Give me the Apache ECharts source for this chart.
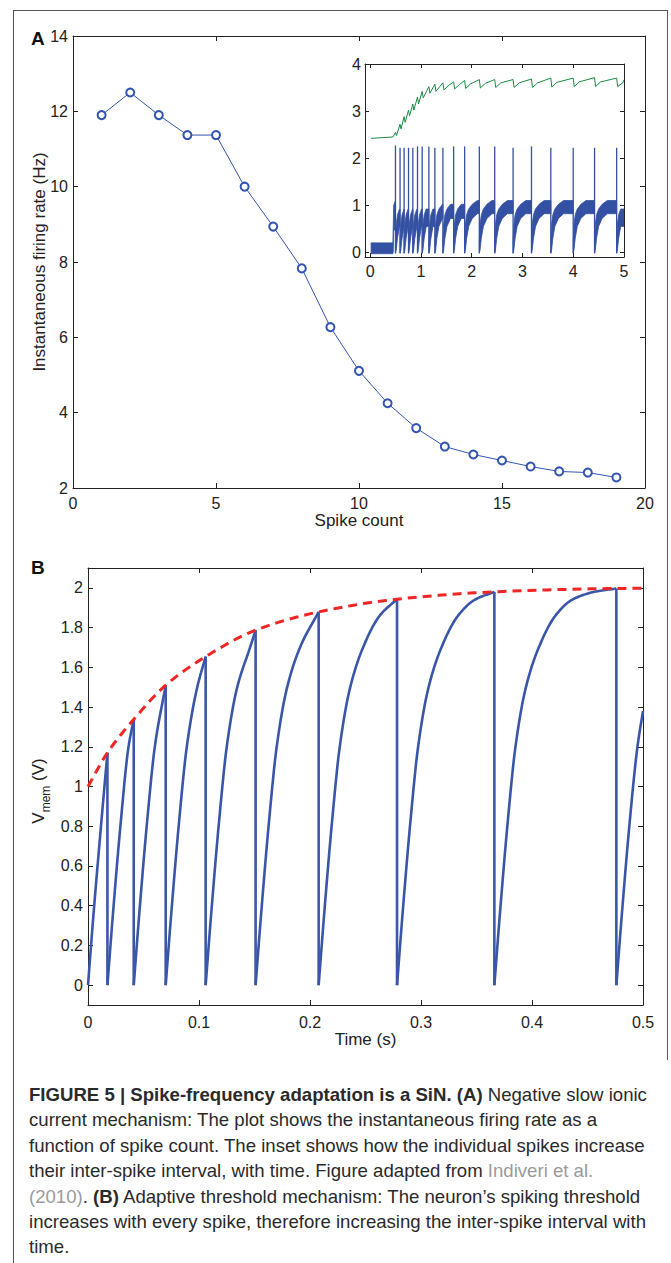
<!DOCTYPE html>
<html><head><meta charset="utf-8">
<script src="https://cdn.jsdelivr.net/npm/echarts@6/dist/echarts.min.js"></script>
<style>html,body{margin:0;padding:0;background:#fff;}#c{width:671px;height:1263px;}</style>
</head><body><div id="c"></div>
<script>
// ---------- Panel A: instantaneous firing rate vs spike count ----------
const spikeCount = [1,2,3,4,5,6,7,8,9,10,11,12,13,14,15,16,17,18,19];
const firingRate = [11.9,12.5,11.9,11.37,11.37,10.0,8.94,7.83,6.27,5.11,4.25,3.59,3.10,2.89,2.73,2.57,2.44,2.41,2.28];
const aXTicks = [0,5,10,15,20];
const aYTicks = [2,4,6,8,10,12,14];

// ---------- Inset of panel A ----------
const insetXTicks = [0,1,2,3,4,5];
const insetYTicks = [0,1,2,3,4];
const insetSpikeTimes = [0.50,0.59,0.67,0.757,0.842,0.934,1.026,1.158,1.276,1.434,1.645,1.862,2.151,2.454,2.816,3.178,3.559,4.0,4.42,4.855];
const insetSpikePeaks = [2.27,2.22,2.22,2.22,2.22,2.25,2.25,2.25,2.22,2.22,2.25,2.25,2.25,2.25,2.22,2.25,2.22,2.22,2.22,2.22];
const insetEndTime = 5.0;
// noisy membrane band (time since spike, lower and upper edge of the band)
const insetBandDt = [0, 0.015, 0.04, 0.08, 0.15, 0.25, 0.45];
const insetBandLo = [-0.02, 0.05, 0.3, 0.55, 0.72, 0.82, 0.88];
const insetBandHi = [0.25, 0.6, 0.8, 0.92, 1.02, 1.1, 1.15];
// before onset: [time, low, high]
const insetPreOnset = [[0.02,-0.03,0.2],[0.45,-0.03,0.2]];
const insetOnset = [[0.45,0.0,0.25],[0.465,0.45,1.0],[0.50,0.5,1.1]];
// green trace
const greenOnset = [[0.02,2.42],[0.45,2.45]];
const greenPeak = [2.55,2.72,2.88,3.02,3.15,3.3,3.42,3.52,3.57,3.6,3.62,3.65,3.67,3.67,3.67,3.68,3.7,3.7,3.71,3.7];
const greenTrough = [2.48,2.62,2.76,2.9,3.02,3.15,3.28,3.38,3.42,3.45,3.47,3.48,3.49,3.5,3.5,3.5,3.51,3.52,3.52,3.52];
const greenRecover = [null,null,null,null,null,null,null,null,null,3.55,3.57,3.58,3.59,3.6,3.6,3.6,3.61,3.62,3.62,3.6];
const greenEnd = 3.66;

// ---------- Panel B: adaptive threshold ----------
const bXTicks = [0,0.1,0.2,0.3,0.4,0.5];
const bYTicks = [0,0.2,0.4,0.6,0.8,1,1.2,1.4,1.6,1.8,2];
const bSpikeTimes = [0.0175,0.0412,0.070,0.106,0.151,0.2078,0.2784,0.3661,0.476];
const bSpikePeaks = [1.17,1.338,1.51,1.654,1.787,1.879,1.943,1.98,1.997];
const bRiseCurves = [
  [[0,0],[0.005,0.36],[0.012,0.82],[0.0175,1.17]],
  [[0.0175,0],[0.0225,0.36],[0.0295,0.82],[0.0365,1.2],[0.0412,1.338]],
  [[0.0412,0],[0.0462,0.36],[0.0532,0.82],[0.0602,1.2],[0.070,1.51]],
  [[0.070,0],[0.075,0.36],[0.082,0.82],[0.089,1.2],[0.098,1.49],[0.106,1.654]],
  [[0.106,0],[0.111,0.36],[0.118,0.82],[0.125,1.2],[0.134,1.49],[0.146,1.70],[0.151,1.787]],
  [[0.151,0],[0.156,0.36],[0.163,0.82],[0.170,1.2],[0.179,1.49],[0.191,1.70],[0.2078,1.879]],
  [[0.2078,0],[0.2128,0.36],[0.2198,0.82],[0.2268,1.2],[0.2358,1.49],[0.2478,1.70],[0.2628,1.86],[0.2784,1.943]],
  [[0.2784,0],[0.2834,0.36],[0.2904,0.82],[0.2974,1.2],[0.3064,1.49],[0.3184,1.70],[0.3334,1.86],[0.3484,1.94],[0.3661,1.98]],
  [[0.3661,0],[0.3711,0.36],[0.3781,0.82],[0.3851,1.2],[0.3941,1.49],[0.4061,1.70],[0.4211,1.86],[0.4361,1.94],[0.4561,1.98],[0.476,1.997]],
  [[0.476,0],[0.481,0.36],[0.488,0.82],[0.495,1.2],[0.5,1.38]]
];
const bThreshold = [[0,1.0],[0.0175,1.17],[0.0412,1.338],[0.070,1.51],[0.106,1.654],[0.151,1.787],[0.2078,1.879],[0.2784,1.943],[0.3661,1.98],[0.476,1.997],[0.5,1.998]];

// ---------- Texts ----------
const aYTitle = 'Instantaneous firing rate (Hz)';
const aXTitle = 'Spike count';
const bYTitle = '{v|V}{s|mem}{v| (V)}';
const bXTitle = 'Time (s)';
const captionLines = [
  '{b|FIGURE 5 | Spike-frequency adaptation is a SiN. (A)} Negative slow ionic',
  'current mechanism: The plot shows the instantaneous firing rate as a',
  'function of spike count. The inset shows how the individual spikes increase',
  'their inter-spike interval, with time. Figure adapted from {g|Indiveri et al.}',
  '{g|(2010)}. {b|(B)} Adaptive threshold mechanism: The neuron\u2019s spiking threshold',
  'increases with every spike, therefore increasing the inter-spike interval with',
  'time.'
];

// ================= drawing =================
const FONT = '"Liberation Sans", Arial, Helvetica, sans-serif';
const INK = '#222';
const BLUE_A = '#3355b2';
const BLUE_B = '#3a56a8';
const BLUE_IN = '#3350a2';
const GREEN = '#1d8a43';
const RED = '#ee2626';
const CAP_FS = 18.6;

function fmt1(v){ return String(Math.round(v*10)/10); }

function boxAxes(dim, gridIndex, min, max, ticks, fs, tickLen, margin, z, name, nameGap){
  const isX = dim === 'x';
  const base = {
    type:'value', gridIndex, min, max, scale:true, z:z,
    splitLine:{show:false},
    axisLine:{show:true, onZero:false, lineStyle:{color:INK, width:1}},
    axisTick:{show:true, inside:true, length:tickLen, customValues:ticks, lineStyle:{color:INK, width:1}}
  };
  const main = Object.assign({}, base, {
    position: isX ? 'bottom' : 'left',
    axisLabel:{show:true, customValues:ticks, formatter:fmt1, fontSize:fs, color:INK, fontFamily:FONT, margin:margin},
  });
  if (name){
    main.name = name; main.nameLocation = 'middle'; main.nameGap = nameGap;
    main.nameTextStyle = {fontSize:17, color:INK, fontFamily:FONT};
  }
  const other = Object.assign({}, base, {position: isX ? 'top' : 'right', axisLabel:{show:false}});
  return [main, other];
}

const xAxes = [].concat(
  boxAxes('x',0,0,20,aXTicks,16,5,7,0,aXTitle,22),
  boxAxes('x',1,-0.1,5,insetXTicks,16,4,6,8),
  boxAxes('x',2,0,0.5,bXTicks,16,5,9,0,bXTitle,24)
);
const yAxes = [].concat(
  boxAxes('y',0,2,14,aYTicks,16,5,5,0),
  boxAxes('y',1,-0.1,4,insetYTicks,16,4,4,8),
  boxAxes('y',2,-0.1,2.1,bYTicks,16,5,5,0)
);

// smooth (monotone cubic) rendering of pixel points taken from api.coord
function smoothPixels(px){
  const n = px.length;
  if (n < 3) return px;
  const dx = [], m = [];
  for (let i=0;i<n-1;i++){ dx.push(px[i+1][0]-px[i][0]); m.push((px[i+1][1]-px[i][1])/dx[i]); }
  const t = [m[0]];
  for (let i=1;i<n-1;i++){
    if (m[i-1]*m[i] <= 0) t.push(0);
    else t.push(3*(dx[i-1]+dx[i]) / ((2*dx[i]+dx[i-1])/m[i-1] + (dx[i]+2*dx[i-1])/m[i]));
  }
  t.push(m[n-2]);
  const out = [px[0]];
  const S = 14;
  for (let i=0;i<n-1;i++){
    for (let k=1;k<=S;k++){
      const s = k/S, s2 = s*s, s3 = s2*s;
      const h00 = 2*s3-3*s2+1, h10 = s3-2*s2+s, h01 = -2*s3+3*s2, h11 = s3-s2;
      out.push([px[i][0]+s*dx[i], h00*px[i][1] + h10*dx[i]*t[i] + h01*px[i+1][1] + h11*dx[i]*t[i+1]]);
    }
  }
  return out;
}

// inset intervals: [start, end, peakAtStart]
const insetIntervals = insetSpikeTimes.map((t,i)=>[t, i+1<insetSpikeTimes.length ? insetSpikeTimes[i+1] : insetEndTime, insetSpikePeaks[i]]);

function bandPolygon(api, pts){ // pts: [t, lo, hi]
  const up = pts.map(p=>api.coord([p[0],p[2]]));
  const dn = pts.slice().reverse().map(p=>api.coord([p[0],p[1]]));
  return {type:'polygon', shape:{points:up.concat(dn)}, style:{fill:BLUE_IN, stroke:BLUE_IN, lineWidth:0.8}};
}

// green points
const greenData = greenOnset.slice();
insetSpikeTimes.forEach((t,i)=>{
  greenData.push([t, greenPeak[i]]);
  greenData.push([t+0.02, greenTrough[i]]);
  if (greenRecover[i] !== null) greenData.push([t+0.12, greenRecover[i]]);
});
greenData.push([insetEndTime, greenEnd]);

// panel B series
const bSeries = [
  {type:'custom', xAxisIndex:4, yAxisIndex:4, silent:true, z:3,
   data: bRiseCurves.map((seg,i)=>[seg[0][0], seg[seg.length-1][0], i]),
   renderItem:(params, api)=>{
     const seg = bRiseCurves[api.value(2)];
     const px = smoothPixels(seg.map(p=>api.coord(p)));
     return {type:'polyline', shape:{points:px}, style:{stroke:BLUE_B, lineWidth:2.6, fill:null, lineJoin:'round'}};
   }},
  {type:'custom', xAxisIndex:4, yAxisIndex:4, silent:true, z:3,
   data: bSpikeTimes.map((t,i)=>[t, bSpikePeaks[i]]),
   renderItem:(params, api)=>{
     const p1 = api.coord([api.value(0), api.value(1)]);
     const p0 = api.coord([api.value(0), 0]);
     return {type:'line', shape:{x1:p0[0],y1:p0[1],x2:p1[0],y2:p1[1]}, style:{stroke:BLUE_B, lineWidth:2.6}};
   }},
  {type:'custom', xAxisIndex:4, yAxisIndex:4, silent:true, z:4,
   data: [bThreshold[0]],
   renderItem:(params, api)=>{
     const px = smoothPixels(bThreshold.map(p=>api.coord(p)));
     return {type:'polyline', shape:{points:px}, style:{stroke:RED, lineWidth:3, fill:null, lineDash:[9,6]}};
   }}
];

const captionGraphics = captionLines.map((line,i)=>({
  type:'text', left:29, top:1085 + i*25.4, silent:true,
  style:{text:line, fontSize:CAP_FS, fontFamily:FONT, fill:'#2a2a2a',
    rich:{b:{fontWeight:'bold', fontSize:CAP_FS, fontFamily:FONT, fill:'#2a2a2a'},
          g:{fontSize:CAP_FS, fontFamily:FONT, fill:'#9a9a9a'}}}
}));

const option = {
  animation:false,
  backgroundColor:'#fff',
  grid:[
    {left:73, top:36, width:572, height:452, containLabel:false},
    {left:365, top:64, width:259, height:193, show:true, backgroundColor:'#fff', borderWidth:0, z:5},
    {left:88, top:568, width:555, height:437}
  ],
  xAxis: xAxes,
  yAxis: yAxes,
  series: [
    {type:'line', xAxisIndex:0, yAxisIndex:0, data: spikeCount.map((c,i)=>[c, firingRate[i]]),
     symbol:'emptyCircle', symbolSize:8, showSymbol:true,
     lineStyle:{color:BLUE_A, width:1}, itemStyle:{color:BLUE_A, borderColor:BLUE_A, borderWidth:1}, silent:true},
    {type:'custom', xAxisIndex:2, yAxisIndex:2, silent:true, z:6,
     data: insetIntervals,
     renderItem:(params, api)=>{
       const t0 = api.value(0), t1 = api.value(1), pk = api.value(2);
       const pts = [];
       for (let j=0;j<insetBandDt.length;j++){
         if (t0 + insetBandDt[j] < t1) pts.push([t0+insetBandDt[j], insetBandLo[j], insetBandHi[j]]);
       }
       const last = pts[pts.length-1];
       pts.push([t1, last[1], last[2]]);
       const a = api.coord([t0, -0.02]), b = api.coord([t0, pk]);
       return {type:'group', children:[
         bandPolygon(api, pts),
         {type:'line', shape:{x1:a[0],y1:a[1],x2:b[0],y2:b[1]}, style:{stroke:BLUE_IN, lineWidth:1.3}}
       ]};
     }},
    {type:'custom', xAxisIndex:2, yAxisIndex:2, silent:true, z:6,
     data:[0],
     renderItem:(params, api)=>({type:'group', children:[bandPolygon(api, insetPreOnset), bandPolygon(api, insetOnset)]})},
    {type:'line', xAxisIndex:2, yAxisIndex:2, data:greenData, showSymbol:false, symbol:'none',
     lineStyle:{color:GREEN, width:1}, z:6, silent:true}
  ].concat(bSeries),
  graphic:[
    {type:'line', shape:{x1:13,y1:10.5,x2:668,y2:10.5}, style:{stroke:'#555', lineWidth:1}, silent:true},
    {type:'line', shape:{x1:13.5,y1:10,x2:13.5,y2:1263}, style:{stroke:'#555', lineWidth:1}, silent:true},
    {type:'line', shape:{x1:667.5,y1:10,x2:667.5,y2:1060}, style:{stroke:'#555', lineWidth:1}, silent:true},
    {type:'text', left:31, top:29, style:{text:'A', fontSize:19, fontWeight:'bold', fontFamily:FONT, fill:'#111'}, silent:true},
    {type:'text', left:31, top:558, style:{text:'B', fontSize:19, fontWeight:'bold', fontFamily:FONT, fill:'#111'}, silent:true},
    {type:'text', x:39, y:262, rotation:Math.PI/2, silent:true,
     style:{text:aYTitle, x:0, y:0, align:'center', verticalAlign:'middle', fontSize:17, fontFamily:FONT, fill:INK}},
    {type:'text', x:41, y:791, rotation:Math.PI/2, silent:true,
     style:{text:bYTitle, x:0, y:0, align:'center', verticalAlign:'middle', fontSize:17, fontFamily:FONT, fill:INK,
       rich:{v:{fontSize:17, fontFamily:FONT, fill:INK, lineHeight:22, verticalAlign:'top'},
             s:{fontSize:12, fontFamily:FONT, fill:INK, lineHeight:22, verticalAlign:'bottom'}}}}
  ].concat(captionGraphics)
};

const chart = echarts.init(document.getElementById('c'), null, {renderer:'svg', width:671, height:1263});
chart.setOption(option);
</script>
</body></html>
